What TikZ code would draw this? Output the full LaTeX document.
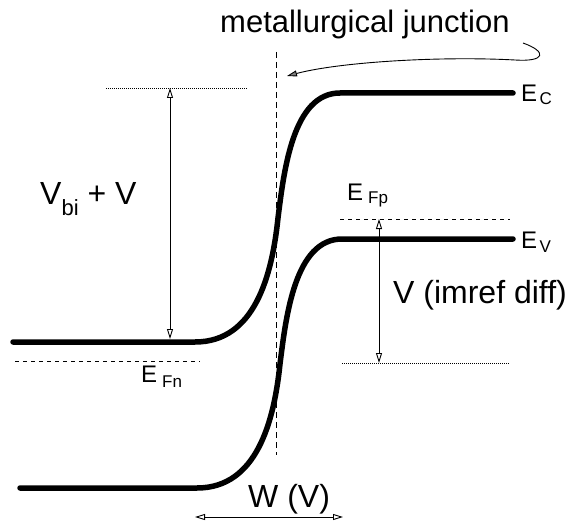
\documentclass[tikz,border=0pt]{standalone}
\usepackage{fontspec}
\setmainfont{Liberation Sans}
\usetikzlibrary{arrows.meta}
\begin{document}
\begin{tikzpicture}[x=1pt,y=-1pt,
  band/.style={line width=5.5pt, line cap=round},
  hair/.style={line width=0.9pt},
  dimarrow/.style={hair, {Triangle[open,length=10pt,width=6pt]}-{Triangle[open,length=10pt,width=6pt]}},
  guide/.style={hair, dash pattern=on 4pt off 4pt},
  junc/.style={hair, dash pattern=on 6pt off 4pt},
  dotline/.style={line width=0.9pt, dash pattern=on 1pt off 1pt},
  big/.style={inner sep=0pt, anchor=base west, font=\fontsize{32}{38}\selectfont},
  lab/.style={inner sep=0pt, anchor=base west, font=\fontsize{24}{28}\selectfont}]
\useasboundingbox (0,0) rectangle (572,521);

% bands
\draw[band] (13,342) -- (195,342) .. controls (255,342) and (272,275) .. (278,218)
  .. controls (284,170) and (293,93) .. (340,93) -- (513,93);
\draw[band] (20,488) -- (197,488) .. controls (257,488) and (274,421) .. (280,364)
  .. controls (286,316) and (295,239) .. (342,239) -- (513,239);

% guide lines
\coordinate (d1a) at (106,88);  \coordinate (d1b) at (247,88);
\coordinate (d2a) at (342,363); \coordinate (d2b) at (510,363);
\coordinate (fna) at (15,361);  \coordinate (fnb) at (200,361);
\coordinate (fpa) at (340,219); \coordinate (fpb) at (510,219);
\coordinate (ja) at (276,52);   \coordinate (jb) at (276,455);
\draw[dotline] (d1a) -- (d1b);
\draw[dotline] (d2a) -- (d2b);
\draw[guide] (fna) -- (fnb);
\draw[guide] (fpa) -- (fpb);
\draw[junc] (ja) -- (jb);

% dimension arrows
\coordinate (vt) at (170,88);  \coordinate (vb) at (170,339);
\coordinate (it) at (379,219); \coordinate (ib) at (379,363);
\coordinate (wl) at (195,517); \coordinate (wr) at (343,517);
\draw[dimarrow] (vt) -- (vb);
\draw[dimarrow] (it) -- (ib);
\draw[dimarrow] (wl) -- (wr);

% labels
\node[big, font=\fontsize{31}{36}\selectfont] (mj) at (220,33) {metallurgical junction};
\node[big] (vbi) at (40,205) {V\raisebox{-10pt}{\fontsize{22}{26}\selectfont bi} + V};
\node[big] (imref) at (393,303) {V (imref diff)};
\node[big] (wv) at (248,507) {W (V)};
\node[lab] (ec) at (521,102) {E\kern2.5pt\raisebox{-3pt}{\fontsize{17}{20}\selectfont C}};
\node[lab] (ev) at (521,248) {E\kern2.5pt\raisebox{-4pt}{\fontsize{17}{20}\selectfont V}};
\node[lab] (efn) at (141,382) {E\kern5pt\raisebox{-5pt}{\fontsize{17}{20}\selectfont Fn}};
\node[lab] (efp) at (347,201) {E\kern5pt\raisebox{-2pt}{\fontsize{17}{20}\selectfont Fp}};

% pointer to the junction
\coordinate (ps) at (523,43);
\coordinate (pe) at (287,76);
\draw[hair, -{Triangle[length=10pt,width=6pt,fill=gray]}] (ps) .. controls (548,52) and (545,62) .. (515,60)
  .. controls (440,56) and (340,62) .. (pe);
\end{tikzpicture}
\end{document}
